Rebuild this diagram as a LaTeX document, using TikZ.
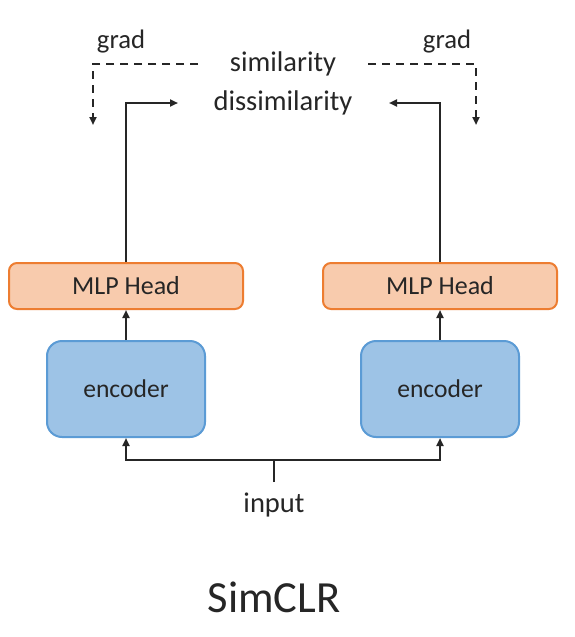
\documentclass[tikz,border=0pt]{standalone}
\usepackage{fontspec}
\setmainfont{Carlito}
\usetikzlibrary{arrows.meta}
\definecolor{mlpfill}{HTML}{F8CBAD}
\definecolor{mlpdraw}{HTML}{ED7D31}
\definecolor{encfill}{HTML}{9DC3E6}
\definecolor{encdraw}{HTML}{5B9BD5}
\definecolor{txt}{HTML}{262626}
\begin{document}
\begin{tikzpicture}[x=1pt,y=-1pt,
  mlpbox/.style={draw=mlpdraw, fill=mlpfill, line width=2pt, rounded corners=8pt,
    minimum width=234pt, minimum height=46pt, inner sep=0pt, text=txt,
    font=\fontsize{26}{31}\selectfont},
  encbox/.style={draw=encdraw, fill=encfill, line width=2pt, rounded corners=15pt,
    minimum width=158pt, minimum height=96pt, inner sep=0pt, text=txt,
    font=\fontsize{25.6}{31}\selectfont},
  lbl/.style={text=txt, inner sep=0pt, font=\fontsize{28.5}{34}\selectfont},
  conn/.style={line width=2pt, draw=black!85, -{Triangle[length=8pt,width=7pt]}},
  dconn/.style={line width=2pt, draw=black!85, dash pattern=on 8pt off 6pt, -{Triangle[length=8pt,width=7pt]}},
  plain/.style={line width=2pt, draw=black!85}
]
\useasboundingbox (0,0) rectangle (574,637);
\fill[white] (0,0) rectangle (574,637);

\node[mlpbox] (mlpL) at (126,286) {MLP Head};
\node[mlpbox] (mlpR) at (440,286) {MLP Head};
\node[encbox] (encL) at (126,389) {encoder};
\node[encbox] (encR) at (440,389) {encoder};

\node[lbl] (sim) at (283,64) {similarity};
\node[lbl] (dis) at (283,103) {dissimilarity};
\node[lbl, font=\fontsize{26.7}{32}\selectfont] (gradL) at (121,42) {grad};
\node[lbl, font=\fontsize{26.7}{32}\selectfont] (gradR) at (447,42) {grad};
\node[lbl] (inp) at (274,505) {input};
\node[lbl, font=\fontsize{44.5}{52}\selectfont] (title) at (274,597) {SimCLR};

\coordinate (tipL) at (178,103);
\coordinate (tipR) at (389,103);
\coordinate (dL0) at (198,64);
\coordinate (dLtip) at (93,125);
\coordinate (dR0) at (368,64);
\coordinate (dRtip) at (476,125);
\coordinate (split) at (274,460);
\coordinate (stem) at (274,482);

\draw[conn] (encL.north) -- (mlpL.south);
\draw[conn] (encR.north) -- (mlpR.south);
\draw[conn] (mlpL.north) |- (tipL);
\draw[conn] (mlpR.north) |- (tipR);
\draw[dconn] (dL0) -| (dLtip);
\draw[dconn] (dR0) -| (dRtip);
\draw[plain] (stem) -- (split);
\draw[conn] (split) -| (encL.south);
\draw[conn] (split) -| (encR.south);
\end{tikzpicture}
\end{document}
